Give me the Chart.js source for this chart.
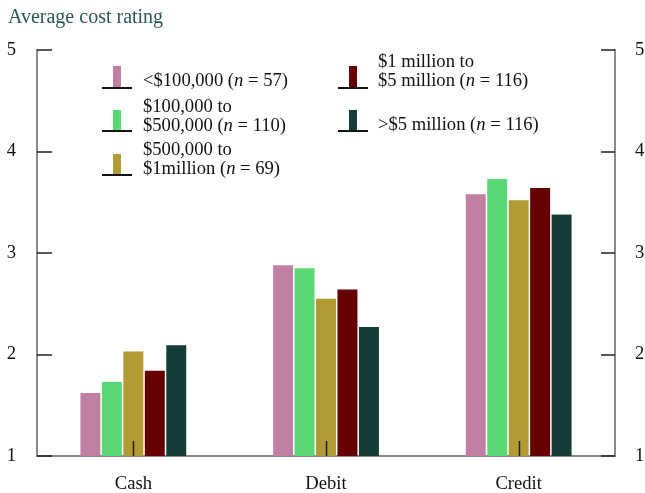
<!DOCTYPE html>
<html>
<head>
<meta charset="utf-8">
<script src="https://cdn.jsdelivr.net/npm/chart.js@4.4.1/dist/chart.umd.min.js"></script>
<style>
  body { margin: 0; background: #fff; }
  #wrap { position: relative; width: 645px; height: 493px; font-family: 'Liberation Serif', serif; }
  #chart { position: absolute; left: 0; top: 0; }
  .title { position: absolute; left: 8px; top: 5px; font-size: 20px; color: #2b5853; }
  .item { position: absolute; font-size: 18.6px; line-height: 19px; color: #111; white-space: pre; }
  .icon-line { position: absolute; height: 1.5px; background: #111; }
  .icon-bar { position: absolute; width: 8px; }
</style>
</head>
<body>
<div id="wrap">
  <canvas id="chart" width="645" height="493"></canvas>
  <div class="title">Average cost rating</div>
  <div id="legend"></div>
</div>
<script>
document.addEventListener('DOMContentLoaded', function() {
    // Dữ liệu
    const categories = ['Cash', 'Debit', 'Credit'];
    const seriesLabels = ['<$100,000', '$100,000 to\n$500,000', '$500,000 to\n$1million', '$1 million to\n$5 million', '>$5 million'];
    const seriesN = [57, 110, 69, 116, 116];
    const seriesColors = ['#c080a4', '#59d975', '#b29a35', '#660000', '#143d38'];

    const under100k = [1.62, 2.88, 3.58];
    const from100kTo500k = [1.73, 2.85, 3.73];
    const from500kTo1m = [2.03, 2.55, 3.52];
    const from1mTo5m = [1.84, 2.64, 3.64];
    const over5m = [2.09, 2.27, 3.38];
    const seriesValues = [under100k, from100kTo500k, from500kTo1m, from1mTo5m, over5m];

    const yMin = 1, yMax = 5;

    // legend layout: [icon line left, line y, bar height, text left, text top]
    const legendPos = [
        [102, 87, 21, 143, 70],
        [102, 130, 20, 143, 96],
        [102, 174, 20, 143, 139],
        [338, 87, 21, 378, 51],
        [338, 130, 20, 378, 114]
    ];

    const legend = document.getElementById('legend');
    seriesLabels.forEach(function(label, i) {
        const p = legendPos[i];
        const line = document.createElement('div');
        line.className = 'icon-line';
        line.style.left = p[0] + 'px';
        line.style.top = p[1] + 'px';
        line.style.width = '30px';
        const bar = document.createElement('div');
        bar.className = 'icon-bar';
        bar.style.left = (p[0] + 11) + 'px';
        bar.style.top = (p[1] - p[2]) + 'px';
        bar.style.height = p[2] + 'px';
        bar.style.background = seriesColors[i];
        const txt = document.createElement('div');
        txt.className = 'item';
        txt.style.left = p[3] + 'px';
        txt.style.top = p[4] + 'px';
        txt.innerHTML = label.replace('<', '&lt;').replace('>', '&gt;') + ' (<i>n</i> = ' + seriesN[i] + ')';
        legend.appendChild(line);
        legend.appendChild(bar);
        legend.appendChild(txt);
    });

    // vạch chia hướng vào trong
    const innerTicks = {
        id: 'innerTicks',
        afterDatasetsDraw(chart) {
            const { ctx, chartArea, scales } = chart;
            ctx.save();
            ctx.strokeStyle = '#222';
            ctx.lineWidth = 1.5;
            ctx.beginPath();
            scales.y.ticks.forEach(function(t, i) {
                const py = Math.round(scales.y.getPixelForTick(i));
                ctx.moveTo(chartArea.left, py);
                ctx.lineTo(chartArea.left + 15, py);
            });
            scales.y2.ticks.forEach(function(t, i) {
                const py = Math.round(scales.y2.getPixelForTick(i));
                ctx.moveTo(chartArea.right, py);
                ctx.lineTo(chartArea.right - 14, py);
            });
            scales.x.ticks.forEach(function(t, i) {
                const px = Math.round(scales.x.getPixelForTick(i)) + 0.5;
                ctx.moveTo(px, chartArea.bottom);
                ctx.lineTo(px, chartArea.bottom - 15);
            });
            ctx.stroke();
            ctx.restore();
        }
    };

    const tickFont = { family: 'Liberation Serif', size: 18.6 };

    new Chart(document.getElementById('chart').getContext('2d'), {
        type: 'bar',
        data: {
            labels: categories,
            datasets: seriesValues.map(function(vals, i) {
                return {
                    label: seriesLabels[i],
                    data: vals,
                    backgroundColor: seriesColors[i],
                    borderWidth: 0,
                    categoryPercentage: 0.557,
                    barPercentage: 0.93,
                    yAxisID: 'y'
                };
            })
        },
        options: {
            responsive: false,
            animation: false,
            layout: { padding: { top: 50, left: 0, right: 0, bottom: 0 } },
            plugins: {
                legend: { display: false },
                tooltip: { enabled: false }
            },
            scales: {
                x: {
                    offset: true,
                    grid: { display: false, drawTicks: false },
                    border: { display: true, color: '#8a8a8a', width: 2 },
                    ticks: { font: tickFont, color: '#111', padding: 17 },
                    afterFit: function(scale) { scale.height = 37; }
                },
                y: {
                    position: 'left',
                    min: yMin,
                    max: yMax,
                    grid: { display: false, drawTicks: false },
                    border: { display: true, color: '#8a8a8a', width: 2 },
                    ticks: { stepSize: 1, font: tickFont, color: '#111', padding: 21 },
                    afterFit: function(scale) { scale.width = 37; }
                },
                y2: {
                    position: 'right',
                    min: yMin,
                    max: yMax,
                    grid: { display: false, drawTicks: false },
                    border: { display: true, color: '#8a8a8a', width: 2 },
                    ticks: { stepSize: 1, font: tickFont, color: '#111', padding: 20 },
                    afterFit: function(scale) { scale.width = 30; }
                }
            }
        },
        plugins: [innerTicks]
    });
});
</script>
</body>
</html>
